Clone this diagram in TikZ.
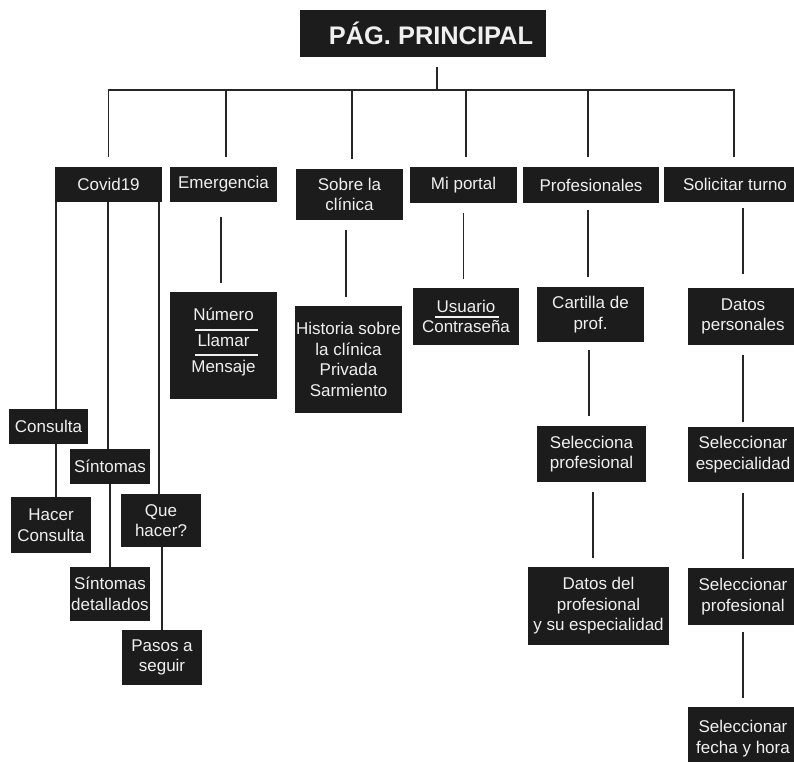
\documentclass[tikz,border=0pt]{standalone}
\usepackage{fontspec}
\setmainfont{Liberation Sans}
\definecolor{boxfill}{HTML}{1C1C1C}
\definecolor{boxtext}{HTML}{F0F0F0}
\definecolor{linecol}{HTML}{262626}
\tikzset{
  blk/.style={fill=boxfill, text=boxtext, inner sep=0pt, align=center,
    font=\fontsize{17}{20.5}\selectfont},
  sz/.style 2 args={minimum width=#1pt, minimum height=#2pt},
  conn/.style={draw=linecol, line width=1.6pt},
  sepline/.style={draw=boxtext, line width=1.4pt},
}
\begin{document}
\begin{tikzpicture}[x=1pt,y=-1pt]
\useasboundingbox (0,0) rectangle (794,761);
\clip (0,0) rectangle (794,761);
\fill[white] (0,0) rectangle (794,761);

% top
\node[blk, sz={246}{47}, font=\fontsize{25.4}{30}\bfseries\selectfont] (top) at (423,33.5) {\hspace*{16pt}PÁG. PRINCIPAL};

% level 1
\node[blk, sz={107}{35}] (covid)  at (108.5,184.5) {Covid19};
\node[blk, sz={107}{35}] (emerg)  at (223.5,184.5) {Emergencia};
\node[blk, sz={107}{51}] (sobre)  at (349.5,194.5) {Sobre la\\clínica};
\node[blk, sz={107}{36}] (portal) at (463.5,185) {Mi portal};
\node[blk, sz={136}{36}] (prof)   at (591,185) {Profesionales};
\node[blk, sz={142}{35}] (solic)  at (735,184.5) {Solicitar turno};

% emergencia / sobre / portal
\node[blk, sz={107}{107}, font=\fontsize{17}{26}\selectfont] (numero) at (223.5,345.5)
  {Número\\Llamar\\Mensaje\rule[-11.5pt]{0pt}{11.5pt}};
\node[blk, sz={107}{107}] (historia) at (348.5,359.5) {Historia sobre\\la clínica\\Privada\\Sarmiento};
\node[blk, sz={106}{57}] (usuario) at (466,316.5) {Usuario\\Contraseña};

% profesionales
\node[blk, sz={107}{55}] (cartilla)   at (590.5,314.5) {Cartilla de\\prof.};
\node[blk, sz={109}{56}] (selecciona) at (591.5,454) {Selecciona\\profesional};
\node[blk, sz={141}{78}] (datosprof)  at (598.5,606) {Datos del\\profesional\\y su especialidad};

% solicitar turno
\node[blk, sz={110}{57}] (datospers) at (743,316.5) {Datos\\personales};
\node[blk, sz={110}{55}] (selesp)    at (743,454.5) {Seleccionar\\especialidad};
\node[blk, sz={110}{57}] (selprof)   at (743,596.5) {Seleccionar\\profesional};
\node[blk, sz={110}{63}, anchor=north] (selfecha) at (743,707) {Seleccionar\\fecha y hora};

% covid children
\node[blk, sz={79}{35}] (consulta) at (48.5,426.5) {Consulta};
\node[blk, sz={80}{56}] (hacer)    at (51,525) {Hacer\\Consulta};
\node[blk, sz={80}{35}] (sintomas) at (110,466.5) {Síntomas};
\node[blk, sz={80}{54}] (sintdet)  at (110,594) {Síntomas\\detallados};
\node[blk, sz={80}{53}] (que)      at (161,520.5) {Que\\hacer?};
\node[blk, sz={80}{55}] (pasos)    at (162,657.5) {Pasos a\\seguir};

% separators inside boxes
\draw[sepline] ([xshift=-28.5pt,yshift=15.5pt]numero.center) -- ++(63,0);
\draw[sepline] ([xshift=-28.5pt,yshift=-9.5pt]numero.center) -- ++(63,0);
\draw[sepline] ([xshift=-31pt,yshift=-0.5pt]usuario.center) -- ++(64,0);

% main bus
\coordinate (bus) at (437,90);
\draw[conn, shorten <=10pt] (top.south -| bus) -- (bus);
\draw[conn] ([yshift=10pt]covid.north) |- (bus) -| ([xshift=-1pt,yshift=10pt]solic.north);
\draw[conn, shorten >=10pt] ([xshift=2.5pt]emerg.north |- bus) -- ([xshift=2.5pt]emerg.north);
\draw[conn, shorten >=10pt] ([xshift=2.5pt]sobre.north |- bus) -- ([xshift=2.5pt]sobre.north);
\draw[conn, shorten >=10pt] ([xshift=2.5pt]portal.north |- bus) -- ([xshift=2.5pt]portal.north);
\draw[conn, shorten >=10pt] ([xshift=-3pt]prof.north |- bus) -- ([xshift=-3pt]prof.north);

% covid branches
\draw[conn] ([xshift=7.5pt]consulta.north |- covid.south) -- ([xshift=7.5pt]consulta.north);
\draw[conn] ([xshift=7.5pt]consulta.south) -- ([xshift=7.5pt]consulta.south |- hacer.north);
\draw[conn] ([xshift=-2pt]sintomas.north |- covid.south) -- ([xshift=-2pt]sintomas.north);
\draw[conn] (sintomas.south) -- (sintdet.north);
\draw[conn] ([xshift=-2pt]que.north |- covid.south) -- ([xshift=-2pt]que.north);
\draw[conn] (que.south -| pasos.north) -- (pasos.north);

% other branches
\draw[conn, shorten <=15pt, shorten >=9pt] ([xshift=-2.5pt]emerg.south) -- ([xshift=-2.5pt]numero.north);
\draw[conn, shorten <=10pt, shorten >=9pt] ([xshift=-3.5pt]sobre.south) -- ([xshift=-3.5pt]sobre.south |- historia.north);
\draw[conn, shorten <=10pt, shorten >=9pt] (portal.south) -- (portal.south |- usuario.north);
\draw[conn, shorten <=7pt, shorten >=10pt] ([xshift=-3pt]prof.south) -- ([xshift=-3pt]prof.south |- cartilla.north);
\draw[conn, shorten <=8pt, shorten >=10pt] ([xshift=-1.5pt]cartilla.south) -- ([xshift=-1.5pt]cartilla.south |- selecciona.north);
\draw[conn, shorten <=10pt, shorten >=9pt] ([xshift=1.5pt]selecciona.south) -- ([xshift=1.5pt]selecciona.south |- datosprof.north);
\draw[conn, shorten <=6pt, shorten >=14pt] (datospers.north |- solic.south) -- (datospers.north);
\draw[conn, shorten <=10pt, shorten >=5pt] (datospers.south) -- (selesp.north);
\draw[conn, shorten <=11pt, shorten >=9pt] (selesp.south) -- (selprof.north);
\draw[conn, shorten <=7pt, shorten >=9pt] (selprof.south) -- (selfecha.north);
\end{tikzpicture}
\end{document}
